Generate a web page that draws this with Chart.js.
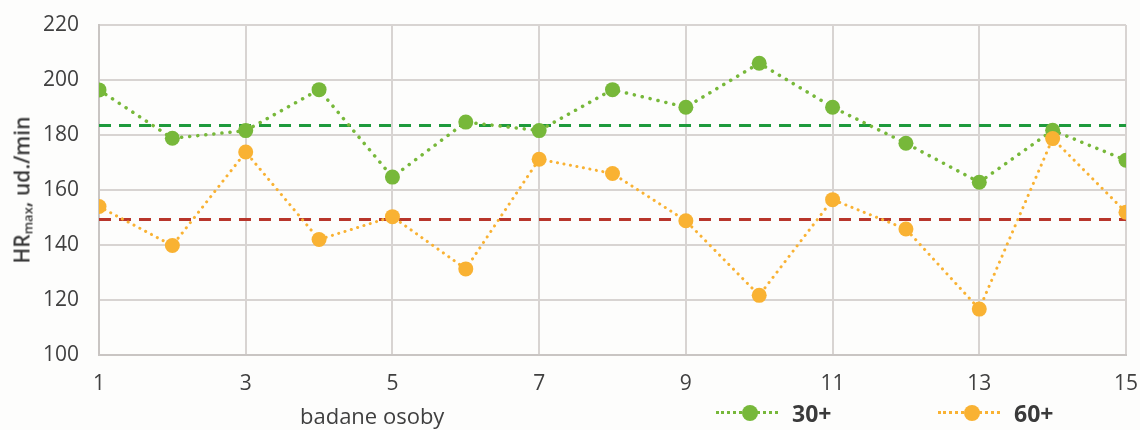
<!DOCTYPE html>
<html>
<head>
<meta charset="utf-8">
<script src="https://cdn.jsdelivr.net/npm/chart.js@4/dist/chart.umd.min.js"></script>
<style>
  body { margin: 0; background: #fdfdfc; font-family: "Open Sans", sans-serif; color: #404040; }
  #wrap { position: relative; width: 1140px; height: 430px; }
  #yTitle {
    position: absolute; left: 22px; top: 190px; white-space: nowrap;
    transform: translate(-50%, -50%) rotate(-90deg);
    font-size: 21px; font-weight: 600; color: #3a3a3a;
  }
  #yTitle sub { font-size: 13px; vertical-align: -3px; }
  #xTitle { position: absolute; left: 300px; top: 400px; font-size: 22px; color: #404040; }
  .leg { position: absolute; top: 397px; display: flex; align-items: center; font-size: 23px; font-weight: 700; color: #3a3a3a; }
  .leg .sample { position: relative; width: 62px; height: 16px; margin-right: 14px; }
  .leg .sample .ln { position: absolute; left: 0; right: 0; top: 6px; border-top: 3px dotted; }
  .leg .sample .pt { position: absolute; left: 26px; top: 0; width: 16px; height: 16px; border-radius: 50%; }
</style>
</head>
<body>
<div id="wrap">
  <canvas id="chart" width="1140" height="430"></canvas>
  <div id="yTitle">HR<sub>max</sub>, ud./min</div>
  <div id="xTitle">badane osoby</div>
  <div class="leg" style="left:716px"><div class="sample"><div class="ln" style="border-color:#77b83a"></div><div class="pt" style="background:#77b83a"></div></div>30+</div>
  <div class="leg" style="left:938px"><div class="sample"><div class="ln" style="border-color:#f9b233"></div><div class="pt" style="background:#f9b233"></div></div>60+</div>
</div>
<script>
const persons = [1, 2, 3, 4, 5, 6, 7, 8, 9, 10, 11, 12, 13, 14, 15];
const group30 = [196.4, 178.8, 181.6, 196.5, 164.7, 184.7, 181.6, 196.5, 190.1, 206.1, 190.1, 177, 162.8, 181.7, 170.8];
const group60 = [154, 139.8, 173.8, 142, 150.3, 131.3, 171.2, 166, 148.8, 121.7, 156.5, 145.8, 116.7, 178.7, 151.9];
const mean30 = 183.5;
const mean60 = 149.3;
const yTicks = [100, 120, 140, 160, 180, 200, 220];
const xTicks = [1, 3, 5, 7, 9, 11, 13, 15];

const toXY = arr => arr.map((v, i) => ({ x: persons[i], y: v }));
const flat = v => persons.map(p => ({ x: p, y: v }));

const green = '#77b83a';
const orange = '#f9b233';

new Chart(document.getElementById('chart'), {
  type: 'line',
  data: {
    datasets: [
      {
        label: '60+', data: toXY(group60), order: 0,
        borderColor: orange, borderWidth: 3, borderDash: [0.1, 6.5], borderCapStyle: 'round',
        pointRadius: 7.5, pointBackgroundColor: orange, pointBorderColor: orange, pointBorderWidth: 0,
        tension: 0
      },
      {
        label: '30+', data: toXY(group30), order: 1,
        borderColor: green, borderWidth: 3.5, borderDash: [0.1, 8], borderCapStyle: 'round',
        pointRadius: 7.5, pointBackgroundColor: green, pointBorderColor: green, pointBorderWidth: 0,
        tension: 0
      },
      {
        label: 'mean 30+', data: flat(mean30), order: 2,
        borderColor: '#1e9a3c', borderWidth: 3, borderDash: [12, 8], pointRadius: 0
      },
      {
        label: 'mean 60+', data: flat(mean60), order: 3,
        borderColor: '#b8352b', borderWidth: 3, borderDash: [12, 8], pointRadius: 0
      }
    ]
  },
  options: {
    responsive: false,
    animation: false,
    layout: { padding: { left: 0, top: 25, right: 14, bottom: 0 } },
    plugins: { legend: { display: false }, tooltip: { enabled: false } },
    scales: {
      x: {
        type: 'linear', min: 1, max: 15,
        afterBuildTicks: s => { s.ticks = xTicks.map(v => ({ value: v })); },
        afterFit: s => { s.height = 75; s.paddingLeft = 0; s.paddingRight = 0; },
        grid: { color: '#d8d4d2', lineWidth: 2, drawTicks: false },
        border: { color: '#c9c5c3', width: 2 },
        ticks: { padding: 16, color: '#404040', font: { family: 'Open Sans', size: 21 } }
      },
      y: {
        min: 100, max: 220,
        afterBuildTicks: s => { s.ticks = yTicks.map(v => ({ value: v })); },
        afterFit: s => { s.width = 99; s.paddingTop = 0; s.paddingBottom = 0; },
        grid: { color: '#d8d4d2', lineWidth: 2, drawTicks: false },
        border: { color: '#c9c5c3', width: 2 },
        ticks: { padding: 20, color: '#404040', font: { family: 'Open Sans', size: 21 } }
      }
    }
  }
});
</script>
</body>
</html>
